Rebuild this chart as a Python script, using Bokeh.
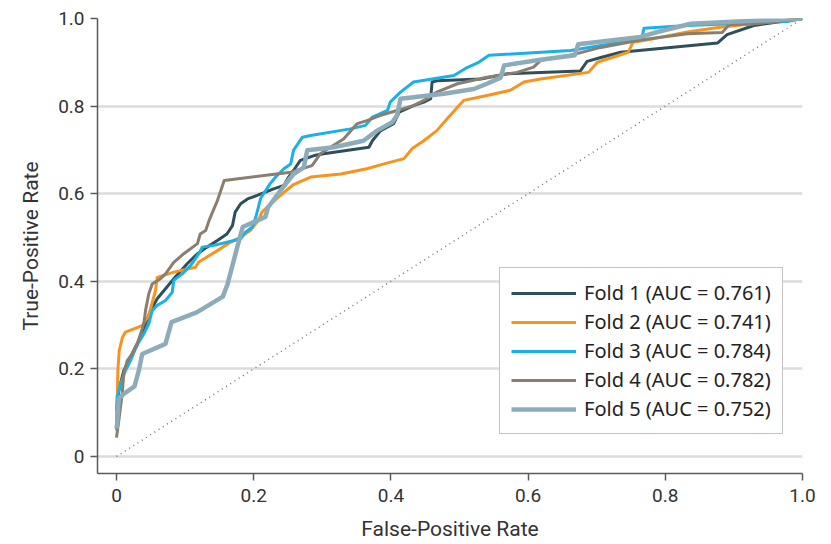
from bokeh.plotting import figure
from bokeh.models import Range1d, FixedTicker, Legend, LegendItem
from bokeh.embed import file_html
from bokeh.resources import INLINE

tick_values = [0, 0.2, 0.4, 0.6, 0.8, 1.0]
tick_labels = ["0", "0.2", "0.4", "0.6", "0.8", "1.0"]

fold_names = ["Fold 1", "Fold 2", "Fold 3", "Fold 4", "Fold 5"]
fold_auc = ["0.761", "0.741", "0.784", "0.782", "0.752"]
fold_colors = ["#2e4f5b", "#f7941d", "#1cb0e8", "#8a7e70", "#8dacba"]

fpr1 = [0, 0.0015, 0.0034, 0.0106, 0.0179, 0.0277, 0.035, 0.0423, 0.0496, 0.0593, 0.0835, 0.103, 0.118,
        0.132, 0.147, 0.161, 0.169, 0.173, 0.181, 0.191, 0.205, 0.229, 0.244, 0.251, 0.258, 0.268, 0.288,
        0.302, 0.368, 0.373, 0.385, 0.404, 0.412, 0.433, 0.448, 0.458, 0.460, 0.467, 0.531, 0.570, 0.676,
        0.686, 0.706, 0.735, 0.876, 0.890, 0.929, 1.0]
tpr1 = [0.071, 0.121, 0.151, 0.196, 0.219, 0.250, 0.272, 0.303, 0.333, 0.360, 0.406, 0.440, 0.463,
        0.478, 0.493, 0.508, 0.527, 0.558, 0.577, 0.588, 0.596, 0.611, 0.619, 0.638, 0.653, 0.676, 0.687,
        0.691, 0.706, 0.721, 0.744, 0.760, 0.786, 0.801, 0.809, 0.817, 0.855, 0.858, 0.862, 0.874, 0.880,
        0.902, 0.911, 0.923, 0.944, 0.963, 0.984, 1.0]

fpr2 = [0, 0.001, 0.002, 0.004, 0.0087, 0.0131, 0.0375, 0.047, 0.0569, 0.0593, 0.0835, 0.115, 0.120,
        0.147, 0.166, 0.181, 0.195, 0.207, 0.212, 0.222, 0.239, 0.258, 0.283, 0.327, 0.365, 0.390, 0.419,
        0.431, 0.448, 0.467, 0.482, 0.506, 0.540, 0.574, 0.594, 0.618, 0.688, 0.701, 0.746, 0.753, 0.783,
        0.832, 0.880, 1.0]
tpr2 = [0.059, 0.128, 0.196, 0.242, 0.272, 0.284, 0.299, 0.322, 0.379, 0.409, 0.421, 0.432, 0.444,
        0.470, 0.489, 0.501, 0.516, 0.539, 0.558, 0.573, 0.596, 0.621, 0.638, 0.645, 0.657, 0.668, 0.680,
        0.703, 0.721, 0.744, 0.771, 0.813, 0.824, 0.836, 0.855, 0.862, 0.877, 0.900, 0.923, 0.946, 0.954,
        0.969, 0.980, 1.0]

fpr3 = [0, 0.001, 0.0058, 0.0131, 0.0204, 0.0277, 0.0325, 0.0398, 0.0471, 0.052, 0.0593, 0.0714, 0.0812,
        0.0835, 0.0958, 0.108, 0.120, 0.125, 0.142, 0.161, 0.181, 0.188, 0.198, 0.203, 0.210, 0.224, 0.232,
        0.244, 0.254, 0.258, 0.271, 0.283, 0.341, 0.363, 0.373, 0.395, 0.399, 0.414, 0.433, 0.492, 0.511,
        0.528, 0.543, 0.662, 0.735, 0.766, 0.769, 0.832, 0.978, 1.0]
tpr3 = [0.105, 0.135, 0.166, 0.196, 0.219, 0.246, 0.261, 0.280, 0.303, 0.333, 0.345, 0.356, 0.375,
        0.402, 0.417, 0.436, 0.463, 0.478, 0.482, 0.489, 0.497, 0.512, 0.524, 0.546, 0.589, 0.623, 0.638,
        0.657, 0.668, 0.699, 0.729, 0.733, 0.748, 0.756, 0.775, 0.790, 0.809, 0.832, 0.855, 0.870, 0.888,
        0.900, 0.916, 0.927, 0.946, 0.957, 0.978, 0.984, 0.993, 1.0]

fpr4 = [0, 0.0034, 0.0083, 0.0106, 0.0156, 0.0229, 0.0302, 0.035, 0.0398, 0.0423, 0.047, 0.052, 0.0641,
        0.0714, 0.0835, 0.0981, 0.118, 0.122, 0.130, 0.135, 0.140, 0.147, 0.157, 0.254, 0.285, 0.297, 0.309,
        0.331, 0.351, 0.365, 0.385, 0.409, 0.433, 0.453, 0.467, 0.497, 0.540, 0.584, 0.608, 0.618, 0.667,
        0.706, 0.764, 0.832, 0.883, 0.893, 0.929, 1.0]
tpr4 = [0.043, 0.082, 0.143, 0.189, 0.219, 0.234, 0.257, 0.280, 0.303, 0.333, 0.371, 0.394, 0.406,
        0.417, 0.443, 0.463, 0.486, 0.508, 0.516, 0.539, 0.558, 0.584, 0.630, 0.649, 0.664, 0.691, 0.703,
        0.725, 0.760, 0.767, 0.779, 0.790, 0.801, 0.817, 0.832, 0.851, 0.866, 0.877, 0.889, 0.904, 0.918,
        0.934, 0.951, 0.965, 0.968, 0.986, 0.988, 1.0]

fpr5 = [0, 0.001, 0.0034, 0.0106, 0.0262, 0.0325, 0.0375, 0.0714, 0.0802, 0.117, 0.155, 0.162, 0.174,
        0.184, 0.217, 0.221, 0.239, 0.258, 0.273, 0.278, 0.317, 0.360, 0.380, 0.402, 0.409, 0.414, 0.477,
        0.521, 0.540, 0.560, 0.565, 0.618, 0.668, 0.673, 0.764, 0.788, 0.837, 1.0]
tpr5 = [0.064, 0.075, 0.132, 0.143, 0.160, 0.196, 0.234, 0.257, 0.307, 0.329, 0.365, 0.394, 0.466,
        0.524, 0.547, 0.569, 0.607, 0.645, 0.660, 0.699, 0.706, 0.721, 0.744, 0.763, 0.779, 0.817, 0.828,
        0.839, 0.851, 0.865, 0.893, 0.906, 0.916, 0.941, 0.958, 0.969, 0.988, 1.0]

fold_fpr = [fpr1, fpr2, fpr3, fpr4, fpr5]
fold_tpr = [tpr1, tpr2, tpr3, tpr4, tpr5]
fold_widths = [3, 3, 3, 3, 4.5]

diag = [0, 1]

TICK_FONT = "Roboto"
LEG_FONT = "Noto Sans"

p = figure(frame_width=705, frame_height=455,
           min_border_left=97, min_border_right=21, min_border_top=18, min_border_bottom=63,
           x_range=Range1d(-19 / 686, 1.0), y_range=Range1d(-17 / 438, 1.0),
           output_backend="svg", toolbar_location=None, background_fill_color="white",
           border_fill_color="white")
p.outline_line_color = None

p.xgrid.visible = False
p.ygrid.ticker = FixedTicker(ticks=tick_values)
p.ygrid.grid_line_color = "#dcdcdc"
p.ygrid.grid_line_width = 2.5

for ax in (p.xaxis[0], p.yaxis[0]):
    ax.ticker = FixedTicker(ticks=tick_values)
    ax.major_label_overrides = {v: l for v, l in zip(tick_values, tick_labels)}
    ax.axis_line_color = "#5a5a5a"
    ax.axis_line_width = 1.5
    ax.major_tick_line_color = "#5a5a5a"
    ax.major_tick_line_width = 1.5
    ax.major_tick_in = 0
    ax.major_tick_out = 7
    ax.minor_tick_line_color = None
    ax.major_label_text_font = TICK_FONT
    ax.major_label_text_font_size = "19px"
    ax.major_label_text_color = "#333333"
    ax.axis_label_text_font = TICK_FONT
    ax.axis_label_text_font_size = "21px"
    ax.axis_label_text_font_style = "normal"
    ax.axis_label_text_color = "#333333"

p.xaxis.axis_label = "False-Positive Rate"
p.yaxis.axis_label = "True-Positive Rate"
p.xaxis.major_label_standoff = 8
p.yaxis.major_label_standoff = 6
p.xaxis.axis_label_standoff = 12
p.yaxis.axis_label_standoff = 12

p.line(diag, diag, line_color="#777777", line_width=1.5, line_dash="1 4")

items = []
for name, auc, col, xs, ys, w in zip(fold_names, fold_auc, fold_colors, fold_fpr, fold_tpr, fold_widths):
    r = p.line(xs, ys, line_color=col, line_width=w, line_join="round")
    items.append(LegendItem(label=f"{name} (AUC = {auc})", renderers=[r]))

legend = Legend(items=items, location=(402, 39), margin=0, padding=11, spacing=2,
                glyph_width=65, glyph_height=20, label_standoff=8,
                label_text_font=LEG_FONT, label_text_font_size="20px", label_text_color="#222222",
                border_line_color="#888888", border_line_width=1.2,
                background_fill_color="white", background_fill_alpha=1.0)
p.add_layout(legend)

open("out.html", "w").write(file_html(p, INLINE))
